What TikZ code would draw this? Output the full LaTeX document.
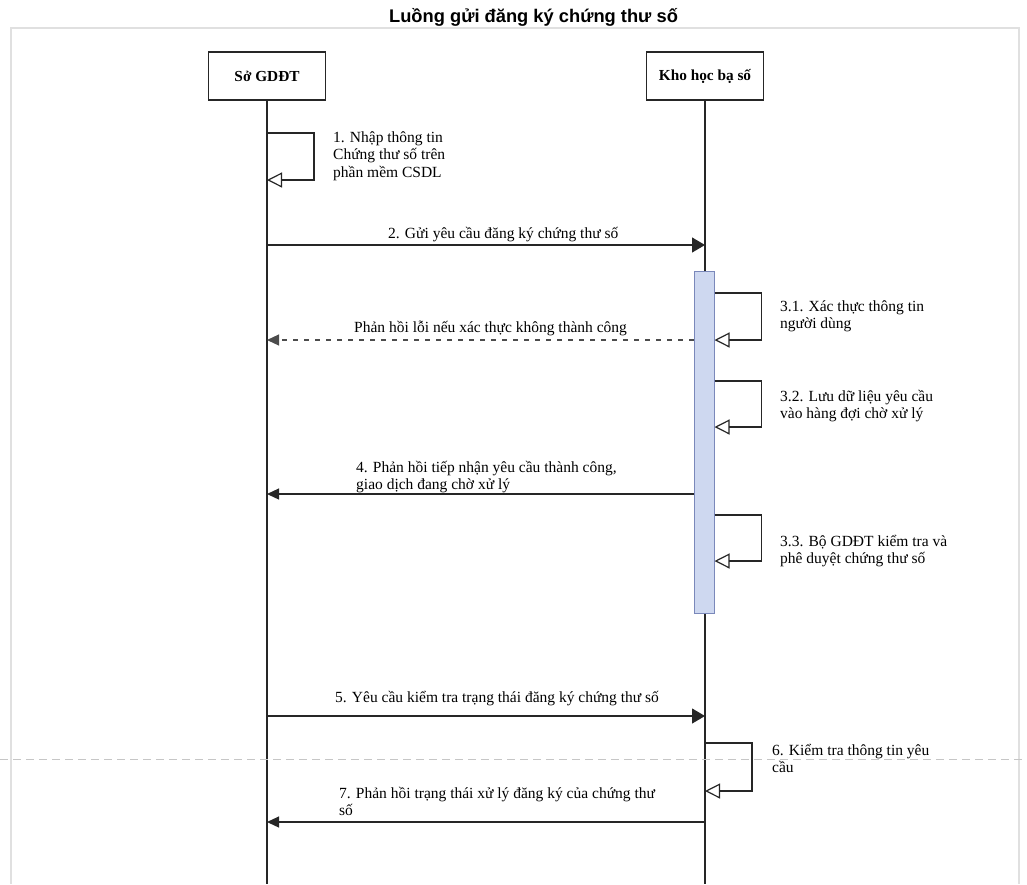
\documentclass[tikz,border=0pt]{standalone}
\usepackage{fontspec}
\setmainfont{Liberation Serif}
\newfontfamily\titlefont{Liberation Sans}
\usepackage{tikz}
\usetikzlibrary{calc,positioning,arrows.meta}
\definecolor{barfill}{RGB}{206,216,240}
\definecolor{barline}{RGB}{122,136,186}
\definecolor{framegray}{RGB}{224,224,224}
\tikzstyle{actor} = [draw=black!85, line width=1.2pt, minimum width=117pt, minimum height=48pt, inner sep=0, font=\fontsize{15.3}{18}\selectfont\bfseries]
\tikzstyle{actbar} = [draw=barline, fill=barfill, line width=1pt, minimum width=20pt, minimum height=342pt, inner sep=0]
\tikzstyle{lbl} = [inner sep=0, anchor=base west, align=left, font=\fontsize{15.5}{17.5}\selectfont]
\tikzstyle{msg} = [draw=black!85, line width=1.2pt, -{Triangle[length=13pt,width=15pt]}]
\tikzstyle{reply} = [draw=black!85, line width=1.2pt, -{Triangle[length=12pt,width=11pt]}]
\tikzstyle{selfmsg} = [draw=black!85, line width=1.2pt, -{Triangle[open,length=15pt,width=15pt,fill=white]}]
\tikzset{x=1pt, y=-1pt}

\begin{document}
\begin{tikzpicture}
\useasboundingbox (0,0) rectangle (1027,884);

\node[font=\titlefont\bfseries\fontsize{18.3}{21}\selectfont, anchor=base] (title) at (533.5,22) {Luồng gửi đăng ký chứng thư số};
\draw[framegray, line width=1.5pt] (11,884) -- (11,28) -- (1019,28) -- (1019,884);

\node[actor] (sgd) at (267,76) {Sở GDĐT};
\node[actor] (kho) at (705,76) {Kho học bạ số};
\coordinate (sgdend) at (267,884);
\coordinate (khoend) at (705,884);
\draw[black!85, line width=1.2pt] (sgd) -- (sgdend);
\draw[black!85, line width=1.2pt] (kho) -- (khoend);

% page break
\draw[gray!45, line width=1pt, dash pattern=on 8pt off 5pt] (0,759) -- (1027,759);

\node[actbar] (act) at (704,442) {};

% 1
\coordinate (s1a) at (sgd.south |- 0,133);
\coordinate (s1b) at (sgd.south |- 0,180);
\draw[selfmsg] (s1a) -- ++(47,0) |- (s1b);
\node[lbl] (t1) at (333,177) {1. Nhập thông tin\\Chứng thư số trên\\phần mềm CSDL};

% 2
\coordinate (s2) at (sgd.south |- 0,245);
\coordinate (k2) at (kho.south |- 0,245);
\draw[msg] (s2) -- (k2);
\node[lbl] (t2) at (388,238) {2. Gửi yêu cầu đăng ký chứng thư số};

% 3.1
\coordinate (a31) at (act.east |- 0,293);
\coordinate (b31) at (act.east |- 0,340);
\draw[selfmsg] (a31) -- ++(47,0) |- (b31);
\node[lbl] (t31) at (780,328.5) {3.1. Xác thực thông tin\\người dùng};

\coordinate (ke) at (act.west |- 0,340);
\coordinate (se) at (sgd.south |- 0,340);
\draw[reply, black!70, dash pattern=on 5pt off 6pt] (ke) -- (se);
\node[lbl] (te) at (354,332) {Phản hồi lỗi nếu xác thực không thành công};

% 3.2
\coordinate (a32) at (act.east |- 0,381);
\coordinate (b32) at (act.east |- 0,427);
\draw[selfmsg] (a32) -- ++(47,0) |- (b32);
\node[lbl] (t32) at (780,418.5) {3.2. Lưu dữ liệu yêu cầu\\vào hàng đợi chờ xử lý};

% 4
\coordinate (k4) at (act.west |- 0,494);
\coordinate (s4) at (sgd.south |- 0,494);
\draw[reply] (k4) -- (s4);
\node[lbl] (t4) at (356,489.5) {4. Phản hồi tiếp nhận yêu cầu thành công,\\giao dịch đang chờ xử lý};

% 3.3
\coordinate (a33) at (act.east |- 0,515);
\coordinate (b33) at (act.east |- 0,561);
\draw[selfmsg] (a33) -- ++(47,0) |- (b33);
\node[lbl] (t33) at (780,563.5) {3.3. Bộ GDĐT kiểm tra và\\phê duyệt chứng thư số};

% 5
\coordinate (s5) at (sgd.south |- 0,716);
\coordinate (k5) at (kho.south |- 0,716);
\draw[msg] (s5) -- (k5);
\node[lbl] (t5) at (335,702) {5. Yêu cầu kiểm tra trạng thái đăng ký chứng thư số};

% 6
\coordinate (k6a) at (kho.south |- 0,743);
\coordinate (k6b) at (kho.south |- 0,791);
\draw[selfmsg] (k6a) -- ++(47,0) |- (k6b);
\node[lbl] (t6) at (772,772.5) {6. Kiểm tra thông tin yêu\\cầu};

% 7
\coordinate (k7) at (kho.south |- 0,822);
\coordinate (s7) at (sgd.south |- 0,822);
\draw[reply] (k7) -- (s7);
\node[lbl] (t7) at (339,815.5) {7. Phản hồi trạng thái xử lý đăng ký của chứng thư\\số};
\end{tikzpicture}
\end{document}
